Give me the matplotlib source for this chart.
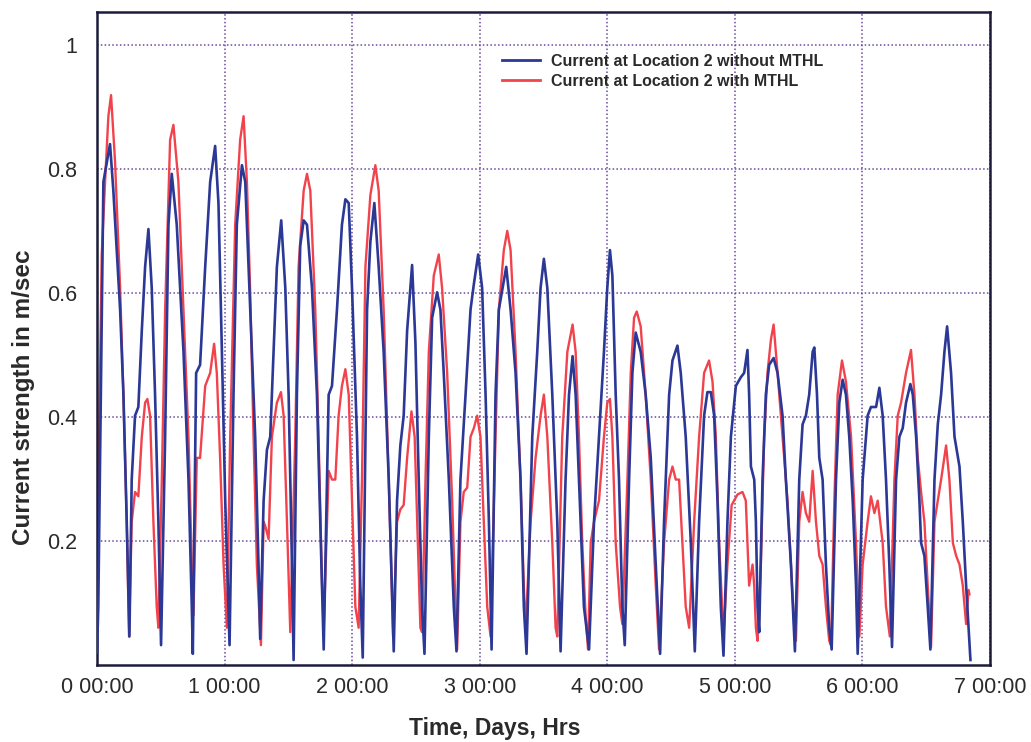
import matplotlib.pyplot as plt
from matplotlib.ticker import FixedLocator

# Current strength (m/sec) at Location 2
# time axis in days from 0 00:00
blue_days = [0.000, 0.010, 0.050, 0.102, 0.128, 0.181, 0.207, 0.233, 0.254, 0.272,
             0.298, 0.324, 0.351, 0.377, 0.403, 0.429, 0.455, 0.481, 0.502, 0.534,
             0.560, 0.586, 0.625, 0.678, 0.717, 0.743, 0.751, 0.777, 0.808, 0.848,
             0.887, 0.926, 0.952, 0.979, 1.005, 1.039, 1.070, 1.096, 1.136, 1.162,
             1.201, 1.240, 1.266, 1.279, 1.306, 1.332, 1.358, 1.384, 1.410, 1.444,
             1.476, 1.502, 1.528, 1.541, 1.567, 1.593, 1.620, 1.646, 1.685, 1.724,
             1.750, 1.777, 1.816, 1.842, 1.881, 1.920, 1.947, 1.973, 1.999, 2.038,
             2.064, 2.083, 2.117, 2.143, 2.174, 2.208, 2.247, 2.287, 2.326, 2.352,
             2.378, 2.404, 2.431, 2.470, 2.496, 2.522, 2.548, 2.567, 2.601, 2.627,
             2.666, 2.692, 2.718, 2.758, 2.797, 2.818, 2.849, 2.889, 2.928, 2.954,
             2.988, 3.019, 3.046, 3.072, 3.093, 3.124, 3.150, 3.208, 3.242, 3.281,
             3.320, 3.346, 3.367, 3.412, 3.451, 3.477, 3.503, 3.530, 3.569, 3.608,
             3.634, 3.673, 3.700, 3.728, 3.752, 3.778, 3.817, 3.857, 3.896, 3.935,
             3.974, 4.000, 4.021, 4.040, 4.066, 4.092, 4.118, 4.137, 4.171, 4.197,
             4.223, 4.262, 4.301, 4.341, 4.380, 4.414, 4.445, 4.485, 4.511, 4.550,
             4.576, 4.615, 4.655, 4.686, 4.720, 4.759, 4.785, 4.812, 4.838, 4.864,
             4.890, 4.911, 4.942, 4.969, 5.008, 5.047, 5.073, 5.099, 5.112, 5.126,
             5.152, 5.165, 5.178, 5.191, 5.217, 5.243, 5.269, 5.304, 5.335, 5.374,
             5.400, 5.440, 5.471, 5.505, 5.531, 5.557, 5.583, 5.610, 5.623, 5.644,
             5.662, 5.688, 5.714, 5.740, 5.759, 5.793, 5.819, 5.845, 5.871, 5.897,
             5.924, 5.950, 5.963, 6.002, 6.041, 6.067, 6.107, 6.133, 6.159, 6.185,
             6.211, 6.232, 6.264, 6.290, 6.316, 6.342, 6.376, 6.395, 6.421, 6.447,
             6.460, 6.486, 6.512, 6.533, 6.565, 6.591, 6.617, 6.643, 6.664, 6.695,
             6.722, 6.761, 6.787, 6.813, 6.832, 6.847]
blue_speed = [0.020, 0.094, 0.779, 0.840, 0.765, 0.573, 0.436, 0.231, 0.046, 0.299,
              0.402, 0.416, 0.539, 0.642, 0.703, 0.608, 0.436, 0.231, 0.032, 0.368,
              0.710, 0.792, 0.710, 0.505, 0.299, 0.094, 0.018, 0.471, 0.484, 0.642,
              0.779, 0.837, 0.745, 0.505, 0.265, 0.032, 0.436, 0.710, 0.806, 0.779,
              0.573, 0.368, 0.162, 0.042, 0.265, 0.347, 0.368, 0.505, 0.642, 0.717,
              0.608, 0.436, 0.162, 0.008, 0.436, 0.676, 0.717, 0.710, 0.608, 0.436,
              0.231, 0.025, 0.436, 0.450, 0.573, 0.710, 0.751, 0.745, 0.608, 0.368,
              0.128, 0.012, 0.573, 0.683, 0.745, 0.642, 0.505, 0.299, 0.022, 0.265,
              0.354, 0.402, 0.539, 0.645, 0.520, 0.299, 0.094, 0.018, 0.368, 0.560,
              0.601, 0.573, 0.471, 0.299, 0.094, 0.022, 0.299, 0.436, 0.573, 0.614,
              0.662, 0.608, 0.436, 0.231, 0.025, 0.436, 0.573, 0.642, 0.573, 0.471,
              0.299, 0.094, 0.018, 0.368, 0.505, 0.608, 0.655, 0.608, 0.436, 0.231,
              0.022, 0.299, 0.436, 0.498, 0.436, 0.299, 0.094, 0.025, 0.231, 0.368,
              0.505, 0.608, 0.669, 0.628, 0.436, 0.299, 0.094, 0.032, 0.299, 0.471,
              0.536, 0.505, 0.436, 0.334, 0.162, 0.018, 0.231, 0.436, 0.491, 0.515,
              0.471, 0.368, 0.197, 0.022, 0.231, 0.402, 0.440, 0.440, 0.402, 0.265,
              0.094, 0.015, 0.231, 0.368, 0.450, 0.464, 0.471, 0.508, 0.436, 0.320,
              0.299, 0.231, 0.094, 0.053, 0.299, 0.436, 0.484, 0.495, 0.471, 0.402,
              0.299, 0.162, 0.022, 0.299, 0.388, 0.402, 0.436, 0.505, 0.512, 0.436,
              0.334, 0.299, 0.162, 0.060, 0.025, 0.299, 0.423, 0.460, 0.436, 0.368,
              0.265, 0.128, 0.018, 0.299, 0.402, 0.416, 0.416, 0.447, 0.402, 0.299,
              0.162, 0.029, 0.299, 0.368, 0.382, 0.423, 0.453, 0.436, 0.368, 0.265,
              0.197, 0.176, 0.094, 0.025, 0.299, 0.388, 0.436, 0.505, 0.546, 0.471,
              0.368, 0.320, 0.231, 0.128, 0.060, 0.008]

red_days = [0.000, 0.037, 0.063, 0.089, 0.110, 0.141, 0.181, 0.207, 0.233, 0.251,
            0.272, 0.298, 0.324, 0.351, 0.377, 0.395, 0.416, 0.442, 0.468, 0.481,
            0.508, 0.534, 0.573, 0.599, 0.638, 0.678, 0.717, 0.743, 0.756, 0.782,
            0.808, 0.848, 0.887, 0.918, 0.939, 0.965, 0.992, 1.018, 1.044, 1.083,
            1.122, 1.149, 1.175, 1.201, 1.227, 1.253, 1.285, 1.306, 1.319, 1.345,
            1.371, 1.410, 1.442, 1.463, 1.489, 1.515, 1.554, 1.580, 1.620, 1.646,
            1.672, 1.711, 1.737, 1.764, 1.777, 1.816, 1.842, 1.868, 1.894, 1.920,
            1.947, 1.973, 1.999, 2.025, 2.051, 2.077, 2.104, 2.143, 2.182, 2.208,
            2.247, 2.287, 2.321, 2.352, 2.378, 2.404, 2.431, 2.465, 2.490, 2.515,
            2.535, 2.548, 2.575, 2.601, 2.640, 2.679, 2.705, 2.745, 2.784, 2.810,
            2.823, 2.849, 2.875, 2.902, 2.928, 2.954, 2.980, 3.006, 3.032, 3.059,
            3.085, 3.124, 3.150, 3.189, 3.216, 3.242, 3.281, 3.320, 3.346, 3.359,
            3.399, 3.438, 3.477, 3.503, 3.530, 3.569, 3.595, 3.608, 3.647, 3.687,
            3.728, 3.752, 3.778, 3.804, 3.830, 3.849, 3.870, 3.896, 3.935, 3.974,
            4.000, 4.021, 4.040, 4.066, 4.100, 4.118, 4.158, 4.184, 4.210, 4.231,
            4.262, 4.301, 4.341, 4.380, 4.406, 4.445, 4.485, 4.511, 4.537, 4.563,
            4.589, 4.615, 4.642, 4.681, 4.720, 4.759, 4.798, 4.825, 4.851, 4.877,
            4.911, 4.942, 4.975, 5.021, 5.060, 5.086, 5.099, 5.112, 5.139, 5.152,
            5.165, 5.178, 5.204, 5.230, 5.256, 5.283, 5.304, 5.335, 5.374, 5.413,
            5.440, 5.466, 5.479, 5.505, 5.531, 5.557, 5.583, 5.610, 5.636, 5.662,
            5.688, 5.714, 5.740, 5.754, 5.780, 5.806, 5.840, 5.871, 5.911, 5.950,
            5.976, 6.002, 6.041, 6.067, 6.094, 6.120, 6.159, 6.185, 6.215, 6.251,
            6.277, 6.303, 6.342, 6.381, 6.408, 6.434, 6.460, 6.486, 6.512, 6.538,
            6.565, 6.591, 6.617, 6.656, 6.682, 6.709, 6.735, 6.761, 6.787, 6.813,
            6.832, 6.839]
red_speed = [0.130, 0.662, 0.779, 0.885, 0.919, 0.813, 0.608, 0.436, 0.231, 0.046,
             0.231, 0.279, 0.272, 0.368, 0.423, 0.429, 0.402, 0.231, 0.094, 0.060,
             0.299, 0.573, 0.847, 0.871, 0.779, 0.573, 0.368, 0.162, 0.080, 0.334,
             0.334, 0.450, 0.471, 0.518, 0.471, 0.334, 0.162, 0.060, 0.368, 0.710,
             0.847, 0.885, 0.779, 0.600, 0.368, 0.162, 0.032, 0.231, 0.224, 0.203,
             0.368, 0.423, 0.440, 0.402, 0.231, 0.053, 0.368, 0.642, 0.765, 0.792,
             0.765, 0.573, 0.368, 0.128, 0.060, 0.313, 0.299, 0.299, 0.402, 0.450,
             0.477, 0.436, 0.265, 0.094, 0.060, 0.299, 0.642, 0.758, 0.806, 0.765,
             0.573, 0.299, 0.046, 0.231, 0.251, 0.258, 0.334, 0.409, 0.368, 0.200,
             0.060, 0.053, 0.299, 0.505, 0.628, 0.662, 0.608, 0.471, 0.265, 0.094,
             0.025, 0.231, 0.279, 0.286, 0.368, 0.382, 0.402, 0.368, 0.231, 0.094,
             0.046, 0.368, 0.573, 0.669, 0.700, 0.669, 0.505, 0.299, 0.128, 0.053,
             0.231, 0.334, 0.402, 0.436, 0.368, 0.197, 0.060, 0.046, 0.368, 0.505,
             0.549, 0.505, 0.368, 0.197, 0.080, 0.025, 0.197, 0.231, 0.265, 0.368,
             0.423, 0.429, 0.368, 0.197, 0.094, 0.066, 0.299, 0.471, 0.560, 0.570,
             0.546, 0.436, 0.299, 0.128, 0.025, 0.197, 0.299, 0.320, 0.299, 0.299,
             0.197, 0.094, 0.060, 0.231, 0.368, 0.471, 0.491, 0.457, 0.368, 0.197,
             0.046, 0.162, 0.258, 0.275, 0.279, 0.265, 0.197, 0.128, 0.162, 0.128,
             0.060, 0.039, 0.162, 0.368, 0.471, 0.525, 0.549, 0.471, 0.368, 0.265,
             0.162, 0.060, 0.039, 0.231, 0.279, 0.245, 0.231, 0.313, 0.231, 0.176,
             0.162, 0.094, 0.039, 0.032, 0.265, 0.436, 0.491, 0.457, 0.368, 0.197,
             0.046, 0.162, 0.231, 0.272, 0.245, 0.265, 0.197, 0.094, 0.046, 0.299,
             0.402, 0.423, 0.471, 0.508, 0.436, 0.334, 0.279, 0.231, 0.128, 0.029,
             0.231, 0.265, 0.299, 0.354, 0.299, 0.197, 0.176, 0.162, 0.128, 0.066,
             0.121, 0.114]

day_ticks = [0, 1, 2, 3, 4, 5, 6, 7]
day_labels = ['0 00:00', '1 00:00', '2 00:00', '3 00:00', '4 00:00', '5 00:00', '6 00:00', '7 00:00']
speed_ticks = [0.2, 0.4, 0.6, 0.8, 1.0]
speed_labels = ['0.2', '0.4', '0.6', '0.8', '1']

plt.rcParams['font.family'] = ['Liberation Sans', 'DejaVu Sans']
text_col = '#2a2a2a'

fig = plt.figure(figsize=(10.31, 7.42), dpi=100)
ax = fig.add_axes([0.0941, 0.1038, 0.8661, 0.8800])

ax.plot(blue_days, blue_speed, color='#2b3896', linewidth=1.9, zorder=3,
        solid_joinstyle='round', label='Current at Location 2 without MTHL')
ax.plot(red_days, red_speed, color='#f2434d', linewidth=1.7, zorder=2,
        solid_joinstyle='round', label='Current at Location 2 with MTHL')

ax.set_xlim(0, 7)
ax.set_ylim(0, 1.053)
ax.xaxis.set_major_locator(FixedLocator(day_ticks))
ax.set_xticklabels(day_labels)
ax.yaxis.set_major_locator(FixedLocator(speed_ticks))
ax.set_yticklabels(speed_labels)
ax.tick_params(axis='both', length=0, labelsize=15.5, labelcolor=text_col)
ax.tick_params(axis='x', pad=9)
ax.tick_params(axis='y', pad=14)

# purple dotted grid as in the scan
ax.grid(True, color='#6a4a9c', linestyle=(0, (1, 1.5)), linewidth=1.1)
ax.set_axisbelow(True)
for sp in ax.spines.values():
    sp.set_color('#1c1c3a')
    sp.set_linewidth(1.8)

ax.set_xlabel('Time, Days, Hrs', fontsize=16.5, fontweight='bold', color=text_col, va='baseline')
ax.xaxis.set_label_coords(0.4457, -0.107)
ax.set_ylabel('Current strength in m/sec', fontsize=17.5, fontweight='bold', color=text_col, va='baseline')
ax.yaxis.set_label_coords(-0.0756, 0.41)

leg = ax.legend(loc='upper left', bbox_to_anchor=(0.4535, 0.936), frameon=False,
                borderpad=0, borderaxespad=0, handlelength=2.4, handletextpad=0.65,
                labelspacing=0.33, prop={'size': 11.5, 'weight': 'bold'})
for t in leg.get_texts():
    t.set_color(text_col)
for ln in leg.get_lines():
    ln.set_linewidth(2.0)

fig.savefig('out.png', dpi=100, facecolor='white')
